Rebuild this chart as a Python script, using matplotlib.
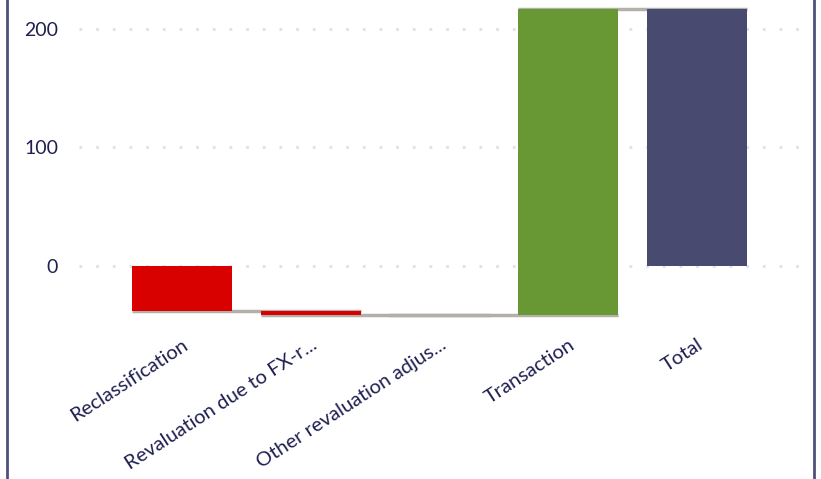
import matplotlib.pyplot as plt
from matplotlib.lines import Line2D

plt.rcParams['font.family'] = ['Lato', 'DejaVu Sans']

categories = ['Reclassification', 'Revaluation due to FX-r...', 'Other revaluation adjus...',
              'Transaction', 'Total']
changes = [-38.5, -3.3, -0.2, 259.2]
y_ticks = [0, 100, 200]

RED = '#d90000'
GREEN = '#679834'
NAVY = '#484a70'
CONNECTOR = '#b3afab'
TEXT = '#1f2050'


def waterfall(ax):
    """draw the step bars, the total bar and the grey connectors"""
    bottoms = []
    ends = []
    running = 0
    for c in changes:
        bottoms.append(running)
        running += c
        ends.append(running)
    total = running

    width = 0.777
    for i, c in enumerate(changes):
        color = GREEN if c > 0 else RED
        ax.bar(i, c, bottom=bottoms[i], width=width, color=color, zorder=3)
    ax.bar(len(changes), total, width=width, color=NAVY, zorder=3)

    # connector from each bar's left edge to the next bar's right edge, behind the bars
    for i, e in enumerate(ends):
        ax.plot([i - width / 2, i + 1 + width / 2], [e, e], color=CONNECTOR,
                linewidth=2.5, zorder=2, solid_capstyle='butt')


def style(ax, fig):
    ax.set_xlim(-0.8, len(categories) - 0.2)
    ax.set_ylim(-44.2, 224.5)
    ax.set_yticks(y_ticks)
    ax.set_yticklabels([str(v) for v in y_ticks], fontsize=14, color=TEXT)
    ax.set_xticks(range(len(categories)))
    ax.set_xticklabels(categories, rotation=33, ha='right', rotation_mode='anchor',
                       fontsize=14.5, color=TEXT)
    ax.tick_params(axis='both', length=0)
    ax.tick_params(axis='y', pad=15)
    ax.tick_params(axis='x', pad=13)
    ax.grid(axis='y', color='#dedef2', linestyle=(0, (1, 5)), linewidth=2, zorder=0)
    for s in ax.spines.values():
        s.set_visible(False)

    # side borders of the chart frame
    for x in (6.5 / 821, 814 / 821):
        fig.add_artist(Line2D([x, x], [0, 1], color='#50507a', linewidth=2,
                              transform=fig.transFigure))


if __name__ == '__main__':
    fig = plt.figure(figsize=(8.21, 4.79), dpi=100)
    ax = fig.add_axes([79 / 821, 1 - 318 / 479, 721 / 821, 318 / 479])
    waterfall(ax)
    style(ax, fig)
    fig.savefig('out.png', dpi=100)
